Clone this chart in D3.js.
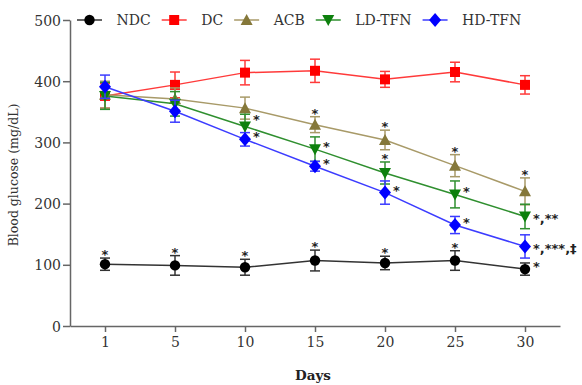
<!DOCTYPE html>
<html>
<head>
<meta charset="utf-8">
<script src="https://cdn.jsdelivr.net/npm/d3@7"></script>
<style>
  body { margin: 0; background: #fff; }
  svg text { font-family: "DejaVu Serif", serif; fill: #333; }
  .axis path, .axis line { stroke: #666; stroke-width: 1.5px; }
  .axis text { font-size: 14px; fill: #333; }
  .sig { font-family: "DejaVu Sans", sans-serif; font-size: 13px; font-weight: bold; fill: #222; }
</style>
</head>
<body>
<svg id="chart" width="582" height="385"></svg>
<script>
// days on the x axis
var days = ["1", "5", "10", "15", "20", "25", "30"];
var yTicks = [0, 100, 200, 300, 400, 500];

var seriesNames = ["NDC", "DC", "ACB", "LD-TFN", "HD-TFN"];

// mean blood glucose (mg/dL)
var ndcMean = [101, 99, 96, 107, 103, 107, 93];
var dcMean = [376, 394, 414, 417, 403, 415, 394];
var acbMean = [378, 371, 356, 329, 304, 262, 220];
var ldMean = [376, 363, 326, 289, 250, 215, 179];
var hdMean = [391, 351, 305, 261, 218, 165, 130];

// error bars
var ndcErr = [10, 16, 13, 17, 11, 16, 10];
var dcErr = [20, 21, 20, 19, 13, 16, 15];
var acbErr = [22, 18, 18, 13, 16, 18, 22];
var ldErr = [22, 20, 20, 20, 18, 22, 20];
var hdErr = [19, 18, 11, 8, 19, 14, 19];

// significance labels and where they sit ("a" = above bar, "r" = right of point, "u" = right, raised)
var ndcSig = ["*", "*", "*", "*", "*", "*", "*"];
var ndcSide = ["a", "a", "a", "a", "a", "a", "r"];
var acbSig = ["", "", "", "*", "*", "*", "*"];
var acbSide = ["", "", "", "a", "a", "a", "a"];
var ldSig = ["", "", "*", "*", "*", "*", "*,**"];
var ldSide = ["", "", "u", "r", "a", "r", "r"];
var hdSig = ["", "", "*", "*", "*", "*", "*,***,\u2021"];
var hdSide = ["", "", "r", "r", "r", "r", "r"];

var svg = d3.select("#chart");

var x = d3.scalePoint()
    .domain(days)
    .range([70, 560])
    .padding(0.5);

var y = d3.scaleLinear()
    .domain([0, 500])
    .range([326, 20]);

var xAxis = d3.axisBottom(x).tickSize(6).tickSizeOuter(0).tickPadding(5);
var yAxis = d3.axisLeft(y).tickValues(yTicks).tickSize(7).tickSizeOuter(0).tickPadding(2);

svg.append("g")
    .attr("class", "x axis")
    .attr("transform", "translate(0," + y(0) + ")")
    .call(xAxis);

svg.append("g")
    .attr("class", "y axis")
    .attr("transform", "translate(" + x.range()[0] + ",0)")
    .call(yAxis);

svg.selectAll(".y.axis text").attr("dy", "0.36em");

svg.append("text")
    .attr("transform", "translate(18,175) rotate(-90)")
    .attr("text-anchor", "middle")
    .style("font-size", "12.5px")
    .text("Blood glucose (mg/dL)");

svg.append("text")
    .attr("x", 313)
    .attr("y", 380)
    .attr("text-anchor", "middle")
    .style("font-size", "13.5px")
    .style("font-weight", "bold")
    .style("fill", "#222")
    .text("Days");

function markerPath(kind) {
    if (kind == "circle") return d3.symbol().type(d3.symbolCircle).size(85)();
    if (kind == "square") return "M-5,-5H5V5H-5Z";
    if (kind == "up") return "M0,-6L6,5H-6Z";
    if (kind == "down") return "M0,6L6,-5H-6Z";
    return "M0,-7L6,0L0,7L-6,0Z";
}

var series = [
    { name: seriesNames[0], mean: ndcMean, err: ndcErr, sig: ndcSig, side: ndcSide, marker: "circle", fill: "#000", line: "#333" },
    { name: seriesNames[1], mean: dcMean, err: dcErr, sig: [], side: [], marker: "square", fill: "#ff0000", line: "#ff3a3a" },
    { name: seriesNames[2], mean: acbMean, err: acbErr, sig: acbSig, side: acbSide, marker: "up", fill: "#85783a", line: "#a89a68" },
    { name: seriesNames[3], mean: ldMean, err: ldErr, sig: ldSig, side: ldSide, marker: "down", fill: "#0d800d", line: "#2f8f2f" },
    { name: seriesNames[4], mean: hdMean, err: hdErr, sig: hdSig, side: hdSide, marker: "diamond", fill: "#0000ff", line: "#3c3cff" }
];

var line = d3.line()
    .x(function(d) { return x(d.day); })
    .y(function(d) { return y(d.v); });

series.forEach(function(s) {
    var pts = days.map(function(d, i) {
        return { day: d, v: s.mean[i], e: s.err[i], sig: s.sig[i] || "", side: s.side[i] || "" };
    });
    var g = svg.append("g");

    g.append("path")
        .datum(pts)
        .attr("d", line)
        .style("fill", "none")
        .style("stroke", s.line)
        .style("stroke-width", 1.5);

    var bars = g.selectAll(".bar").data(pts).enter().append("g").attr("class", "bar");
    bars.append("line")
        .attr("x1", function(d) { return x(d.day); })
        .attr("x2", function(d) { return x(d.day); })
        .attr("y1", function(d) { return y(d.v + d.e); })
        .attr("y2", function(d) { return y(d.v - d.e); });
    bars.append("line")
        .attr("x1", function(d) { return x(d.day) - 5; })
        .attr("x2", function(d) { return x(d.day) + 5; })
        .attr("y1", function(d) { return y(d.v + d.e); })
        .attr("y2", function(d) { return y(d.v + d.e); });
    bars.append("line")
        .attr("x1", function(d) { return x(d.day) - 5; })
        .attr("x2", function(d) { return x(d.day) + 5; })
        .attr("y1", function(d) { return y(d.v - d.e); })
        .attr("y2", function(d) { return y(d.v - d.e); });
    bars.selectAll("line")
        .style("stroke", s.line)
        .style("stroke-width", 1.5);

    g.selectAll(".pt").data(pts).enter().append("path")
        .attr("class", "pt")
        .attr("d", markerPath(s.marker))
        .attr("transform", function(d) { return "translate(" + x(d.day) + "," + y(d.v) + ")"; })
        .style("fill", s.fill);

    g.selectAll(".sig").data(pts.filter(function(d) { return d.sig != ""; })).enter().append("text")
        .attr("class", "sig")
        .attr("text-anchor", function(d) { return d.side == "a" ? "middle" : "start"; })
        .attr("x", function(d) { return d.side == "a" ? x(d.day) : x(d.day) + 8; })
        .attr("y", function(d) {
            if (d.side == "a") return y(d.v + d.e) + 1;
            if (d.side == "u") return y(d.v) - 2;
            return d.sig.length > 1 ? y(d.v) + 7 : y(d.v) + 2;
        })
        .text(function(d) { return d.sig; });
});

// legend along the top
var lx = 77;
series.forEach(function(s) {
    var lg = svg.append("g");
    lg.append("line")
        .attr("x1", lx).attr("x2", lx + 25)
        .attr("y1", 20).attr("y2", 20)
        .style("stroke", s.line)
        .style("stroke-width", 1.5);
    lg.append("path")
        .attr("d", markerPath(s.marker))
        .attr("transform", "translate(" + (lx + 12.5) + ",20)")
        .style("fill", s.fill);
    var t = lg.append("text")
        .attr("x", lx + 39.5)
        .attr("y", 25)
        .style("font-size", "14px")
        .text(s.name);
    lx = lx + 39.5 + t.node().getComputedTextLength() + 11;
});
</script>
</body>
</html>
